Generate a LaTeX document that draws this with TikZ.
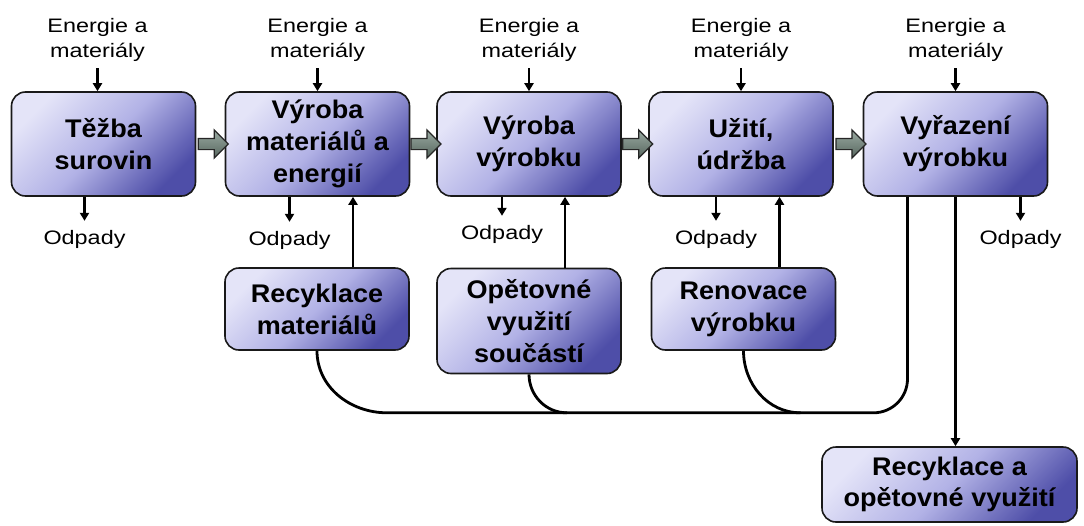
\documentclass[tikz,border=0pt]{standalone}
\usepackage{fontspec}
\setmainfont{Liberation Sans}
\newfontfamily\lblfont[FakeStretch=1.2]{Liberation Sans}
\newfontfamily\boxfont[FakeStretch=1.06]{Liberation Sans}
\usetikzlibrary{arrows.meta,positioning,calc,shapes.arrows}
\definecolor{boxlight}{HTML}{E4E4F8}
\definecolor{boxmid}{HTML}{B2B2E6}
\definecolor{boxdark}{HTML}{4E4EA8}
\definecolor{arrlight}{HTML}{9AAAA2}
\definecolor{arrdark}{HTML}{56665E}

\begin{document}
\begin{tikzpicture}[x=1pt, y=-1pt,
  stage/.style={draw=black!90, line width=1.6pt, rounded corners=14pt, minimum width=184pt, minimum height=104pt, top color=boxlight, bottom color=boxdark, middle color=boxmid, shading angle=45, align=center, font=\boxfont\bfseries\fontsize{25.5}{32}\selectfont},
  lbl/.style={align=center, inner sep=3pt, font=\lblfont\fontsize{19.5}{25}\selectfont},
  feed/.style={line width=2.8pt, -{Triangle[length=8pt,width=9pt]}},
  bus/.style={line width=2.8pt},
  flow/.style={single arrow, draw=black!85, line width=1.2pt, top color=arrlight, bottom color=arrdark, minimum height=30pt, inner xsep=0pt, inner ysep=5pt, single arrow head extend=8.5pt}
]
\useasboundingbox (0,0) rectangle (1084,525);
\node[stage] (tezba) at (103.5,144) {Těžba\\surovin};
\node[stage] (vmat)  at (317.5,144) {Výroba\\materiálů a\\energií};
\node[stage] (vvyr)  at (529,144)   {Výroba\\výrobku};
\node[stage] (uziti) at (741,144)   {Užití,\\údržba};
\node[stage] (vyraz) at (955.5,144) {Vyřazení\\výrobku};
\node[stage, minimum height=82pt]  (recmat) at (317,309)   {Recyklace\\materiálů};
\node[stage, minimum height=105pt] (opet)   at (529,321)   {Opětovné\\využití\\součástí};
\node[stage, minimum height=82pt]  (renov)  at (743.5,309) {Renovace\\výrobku};
\node[stage, minimum width=255pt, minimum height=75pt, font=\boxfont\bfseries\fontsize{25.5}{31}\selectfont] (recyk) at (949.5,484.5) {Recyklace a\\opětovné využití};
\foreach \s/\dx in {tezba/-6, vmat/0, vvyr/0, uziti/0, vyraz/0} {
  \node[lbl, above=26pt of \s, xshift=\dx] (in-\s) {Energie a\\materiály};
  \draw[feed, shorten <=3pt] (in-\s) -- (in-\s |- \s.north);
}
\foreach \s/\dx/\dy in {tezba/-19/30, vmat/-28/31, vvyr/-27/25, uziti/-25/30, vyraz/65/30} {
  \node[lbl, below=\dy pt of \s, xshift=\dx] (out-\s) {Odpady};
  \draw[feed, shorten >=6pt] (out-\s |- \s.south) -- (out-\s);
}
\foreach \a/\b in {tezba/vmat, vmat/vvyr, vvyr/uziti, uziti/vyraz}
  \node[flow] (fl-\a) at ($(\a.east)!0.5!(\b.west)$) {};
\foreach \r/\s in {recmat/vmat, opet/vvyr, renov/uziti}
  \draw[feed] ([xshift=36pt]\r.north) -- ([xshift=36pt]\r.north |- \s.south);
\coordinate (bus-l) at ([shift={(70,62)}]recmat.south);
\coordinate (bus-r) at ([xshift=-48pt]vyraz.south);
\draw[bus] (recmat.south) to[out=-90, in=180] (bus-l) [rounded corners=34pt] -| (bus-r);
\draw[bus] (opet.south) to[out=-90, in=180] ([xshift=38pt]opet.south |- bus-l);
\draw[bus] (renov.south) to[out=-90, in=180] ([xshift=57pt]renov.south |- bus-l);
\draw[feed] (vyraz.south) -- (vyraz.south |- recyk.north);
\end{tikzpicture}
\end{document}
